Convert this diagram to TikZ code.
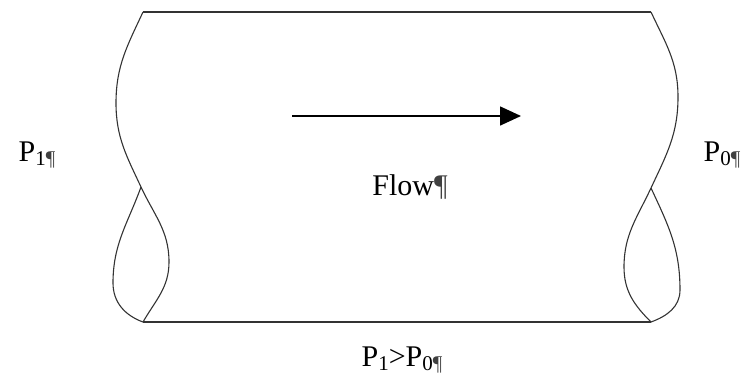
\documentclass[tikz,border=0pt]{standalone}
\usepackage{fontspec}
\setmainfont{Liberation Serif}
\usetikzlibrary{arrows.meta}
% lowered small index, as used for P_1 and P_0
\newcommand{\lowidx}[1]{\raisebox{-0.35ex}{\fontsize{21}{23}\selectfont #1}}
\newcommand{\parmark}{{\color{black!75}\P}}
\newcommand{\smallparmark}{\raisebox{-0.35ex}{\fontsize{21}{23}\selectfont\color{black!75}\P}}
\begin{document}
\begin{tikzpicture}[x=1pt,y=-1pt,
  tube/.style={line width=1.1pt, black!80},
  label/.style={inner sep=0pt, anchor=base, font=\fontsize{30}{34}\selectfont},
  flowarrow/.style={line width=1.6pt, -{Triangle[length=21pt,width=19pt]}}]
\useasboundingbox (0,0) rectangle (752,380);

% corners of the tube
\coordinate (tl) at (143,12);
\coordinate (tr) at (651,12);
\coordinate (bl) at (143,322);
\coordinate (br) at (651,322);
\coordinate (lx) at (141,187);
\coordinate (rx) at (651,188);

% straight walls
\draw[tube] (tl) -- (tr);
\draw[tube] (bl) -- (br);

% twisted left end
\draw[tube] (tl) to[out=-115,in=90] (116,103) to[out=-90,in=115] (lx)
  to[out=-65,in=90] (169,262) to[out=-90,in=60] (bl);
\draw[tube] (lx) to[out=-110,in=90] (113,283) to[out=-90,in=160] (bl);

% twisted right end
\draw[tube] (tr) to[out=-65,in=90] (678,97) to[out=-90,in=65] (rx)
  to[out=-115,in=90] (624,267) to[out=-90,in=135] (br);
\draw[tube] (rx) to[out=-65,in=90] (680,290) to[out=-90,in=20] (br);

% flow direction
\coordinate (fs) at (292,116);
\coordinate (fe) at (521,116);
\draw[flowarrow] (fs) -- (fe);

% texts
\node[label] (pin) at (37,161) {P\lowidx{1}\smallparmark};
\node[label] (pout) at (722,161) {P\lowidx{0}\smallparmark};
\node[label] (flow) at (410,195) {Flow\parmark};
\node[label] (cmp) at (402,366) {P\lowidx{1}>P\lowidx{0}\smallparmark};
\end{tikzpicture}
\end{document}
